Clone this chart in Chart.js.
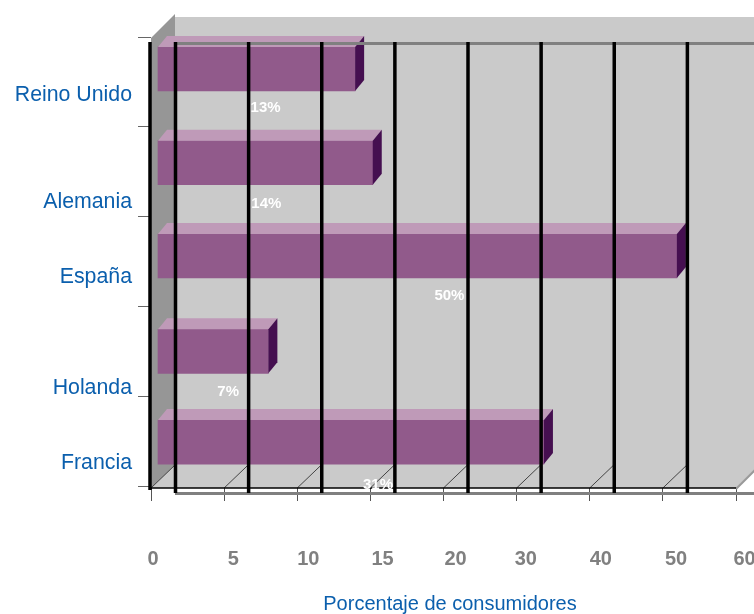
<!DOCTYPE html>
<html>
<head>
<meta charset="utf-8">
<title>Porcentaje de consumidores</title>
<script src="https://cdn.jsdelivr.net/npm/chart.js@4/dist/chart.umd.js"></script>
<style>
body { margin: 0; background: #fff; }
canvas { display: block; }
</style>
</head>
<body>
<canvas id="grafico" width="754" height="614"></canvas>
<script>
// chart data
var categories = ['Reino Unido', 'Alemania', 'España', 'Holanda', 'Francia'];
var percentValues = [13, 14, 50, 7, 31];
var xTickValues = [0, 5, 10, 15, 20, 30, 40, 50, 60];
var xTitle = 'Porcentaje de consumidores';

// hand placement of labels and bars around the pseudo 3D box
var categoryLabelShift = [13, 30, 15.5, 37, 22];
var xLabelShift = [-3.5, 3.5, 0, 1, 1, -2, 0, 2, -2.5];
var barShiftY = [-13, -9, -5.5, 0, 1];
var barEndShift = [14, 17, 14, 15, 20];
var valueLabelShift = [[9, 17], [1, 19], [32, 18], [15, 19], [27, 21]];

// box depth
var DEPTH_X = 24;
var DEPTH_Y = 23;
var BAR_DEPTH_X = 9;
var BAR_DEPTH_Y = 11;

var FONT = '"Liberation Sans", Arial, sans-serif';
var BLUE = '#0b5fad';

// axis with evenly spaced ticks whose steps are not equal (5 up to 20, then 10)
class StepScale extends Chart.LinearScale {
	buildTicks() {
		return xTickValues.map(function (v) { return {value: v}; });
	}
	getPixelForValue(value) {
		var last = xTickValues.length - 1;
		var i = 0;
		while (i < last - 1 && value > xTickValues[i + 1]) i++;
		var part = (value - xTickValues[i]) / (xTickValues[i + 1] - xTickValues[i]);
		return this.getPixelForDecimal((i + part) / last);
	}
}
StepScale.id = 'step';
StepScale.defaults = {};
Chart.register(StepScale);

function poly(ctx, color, pts) {
	ctx.fillStyle = color;
	ctx.beginPath();
	ctx.moveTo(pts[0][0], pts[0][1]);
	for (var i = 1; i < pts.length; i++) ctx.lineTo(pts[i][0], pts[i][1]);
	ctx.closePath();
	ctx.fill();
}

function line(ctx, color, w, x1, y1, x2, y2) {
	ctx.strokeStyle = color;
	ctx.lineWidth = w;
	ctx.beginPath();
	ctx.moveTo(x1, y1);
	ctx.lineTo(x2, y2);
	ctx.stroke();
}

var box3d = {
	id: 'box3d',
	// moves the flat bars into the middle of the box
	afterDatasetsUpdate: function (chart) {
		chart.getDatasetMeta(0).data.forEach(function (bar, i) {
			bar.y += barShiftY[i];
			bar.x += barEndShift[i];
			bar.base += 6.5;
		});
	},
	// walls and floor, behind the bars
	beforeDatasetsDraw: function (chart) {
		var ctx = chart.ctx, a = chart.chartArea, x = chart.scales.x;
		var floorY = a.bottom + 2;
		ctx.save();
		poly(ctx, '#cacaca', [[a.left + DEPTH_X, 17], [754, 17], [754, floorY - 18], [a.right, floorY], [a.left, floorY]]);
		poly(ctx, '#969696', [[a.left, a.top + 1], [a.left + DEPTH_X, a.top - DEPTH_Y], [a.left + DEPTH_X, floorY - DEPTH_Y], [a.left, floorY]]);
		x.ticks.forEach(function (t) {
			var px = x.getPixelForValue(t.value);
			if (px < a.right) line(ctx, '#444', 1, px, floorY, px + DEPTH_X, floorY - DEPTH_Y);
		});
		line(ctx, '#999', 2, a.right, floorY + 1, 756, floorY - 19);
		ctx.restore();
	},
	// bar faces, front grid and texts
	afterDatasetsDraw: function (chart) {
		var ctx = chart.ctx, a = chart.chartArea, x = chart.scales.x, y = chart.scales.y;
		var bars = chart.getDatasetMeta(0).data;
		var floorY = a.bottom + 2;
		ctx.save();

		bars.forEach(function (bar) {
			var top = bar.y - bar.height / 2, bottom = bar.y + bar.height / 2;
			poly(ctx, '#bf9ab8', [[bar.base, top], [bar.base + BAR_DEPTH_X, top - BAR_DEPTH_Y], [bar.x + BAR_DEPTH_X, top - BAR_DEPTH_Y], [bar.x, top]]);
			poly(ctx, '#450f50', [[bar.x, top], [bar.x + BAR_DEPTH_X, top - BAR_DEPTH_Y], [bar.x + BAR_DEPTH_X, bottom - BAR_DEPTH_Y], [bar.x, bottom]]);
		});

		line(ctx, '#808080', 3, a.left + DEPTH_X, 43.5, 754, 43.5);
		line(ctx, '#808080', 3, a.left + DEPTH_X, floorY + 5.5, 754, floorY + 5.5);
		line(ctx, '#000', 1.5, a.left, floorY, a.right, floorY);
		x.ticks.forEach(function (t) {
			var px = x.getPixelForValue(t.value) + DEPTH_X + 0.5;
			line(ctx, '#000', 3.5, px, 42, px, floorY + 5);
		});
		line(ctx, '#000', 3.5, a.left - 1, 42, a.left - 1, floorY + 2);

		ctx.textBaseline = 'middle';

		ctx.fillStyle = '#808080';
		ctx.font = 'bold 20px ' + FONT;
		ctx.textAlign = 'left';
		xTickValues.forEach(function (v, i) {
			ctx.fillText(String(v), x.getPixelForValue(v) + xLabelShift[i], 559);
		});

		ctx.fillStyle = BLUE;
		ctx.font = '21.3px ' + FONT;
		ctx.textAlign = 'right';
		categories.forEach(function (name, i) {
			ctx.fillText(name, 132, y.getPixelForValue(i) + categoryLabelShift[i]);
		});

		ctx.font = '20px ' + FONT;
		ctx.textAlign = 'center';
		ctx.fillText(xTitle, 450, 604);

		ctx.fillStyle = '#fff';
		ctx.font = 'bold 15px ' + FONT;
		bars.forEach(function (bar, i) {
			var mid = (bar.base + bar.x) / 2;
			ctx.fillText(percentValues[i] + '%', mid + valueLabelShift[i][0], bar.y + bar.height / 2 + valueLabelShift[i][1]);
		});
		ctx.restore();
	}
};

new Chart(document.getElementById('grafico'), {
	type: 'bar',
	data: {
		labels: categories,
		datasets: [{
			data: percentValues,
			backgroundColor: '#915a8b',
			barThickness: 44
		}]
	},
	options: {
		indexAxis: 'y',
		responsive: false,
		animation: false,
		events: [],
		layout: {padding: {top: 37, right: 18, bottom: 0, left: 0}},
		plugins: {legend: {display: false}, tooltip: {enabled: false}},
		scales: {
			x: {
				type: 'step',
				position: 'bottom',
				min: 0,
				max: 60,
				afterFit: function (s) { s.height = 128; },
				ticks: {display: false},
				border: {display: false},
				grid: {drawOnChartArea: false, color: '#555', tickLength: 15}
			},
			y: {
				type: 'category',
				afterFit: function (s) { s.width = 151; },
				ticks: {display: false},
				border: {display: false},
				grid: {drawOnChartArea: false, color: '#666', tickLength: 13, offset: true}
			}
		}
	},
	plugins: [box3d]
});
</script>
</body>
</html>
